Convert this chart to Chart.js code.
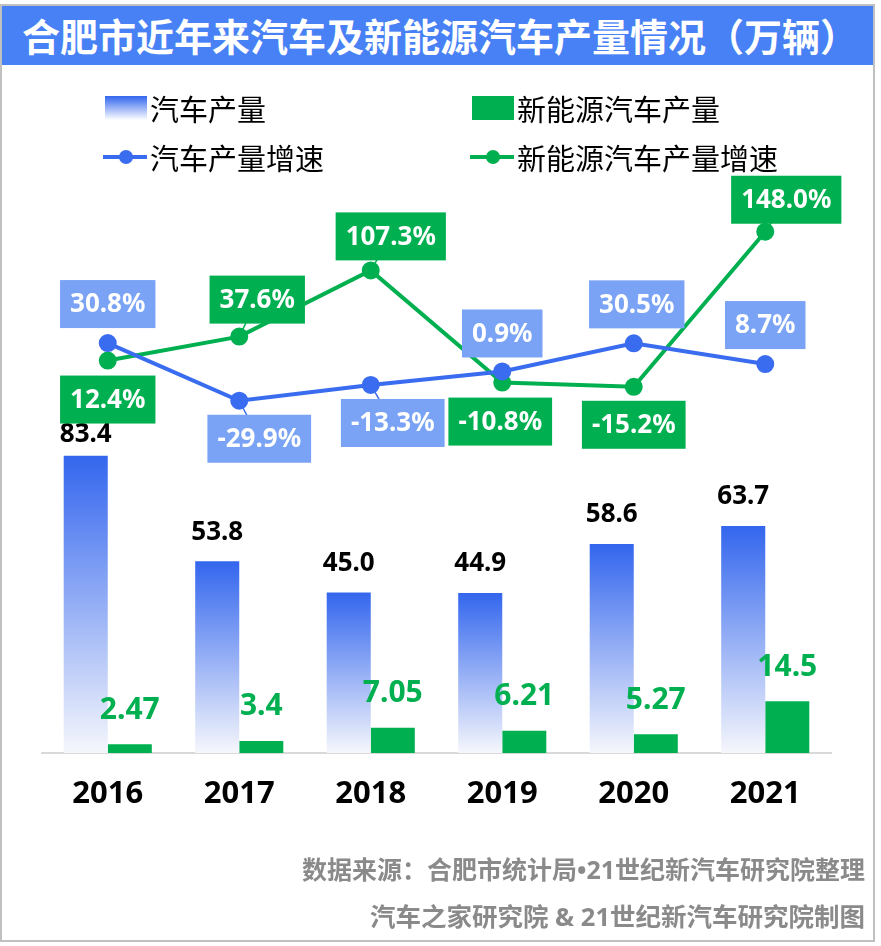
<!DOCTYPE html>
<html>
<head>
<meta charset="utf-8">
<script src="https://cdn.jsdelivr.net/npm/chart.js@4.4.0/dist/chart.umd.min.js"></script>
<style>
body { margin: 0; background: #fff; }
#wrap { position: relative; width: 881px; height: 946px; overflow: hidden; font-family: "Noto Sans", "Noto Sans CJK SC", sans-serif; }
#frame { position: absolute; left: 0; top: 4px; width: 875px; height: 938px; box-sizing: border-box; border: 2px solid #c0c0c0; }
#title { position: absolute; left: 2px; top: 6px; width: 871px; height: 59px; background: #4781f5; color: #fff; font-family: "Noto Sans CJK SC", sans-serif; font-weight: bold; font-size: 38px; line-height: 58px; padding-left: 20px; box-sizing: border-box; white-space: nowrap; }
.lg { position: absolute; height: 36px; line-height: 36px; font-size: 29px; font-family: "Noto Sans CJK SC", sans-serif; color: #000; white-space: nowrap; }
.lg .txt { position: absolute; left: 45px; top: 0; }
.box { position: absolute; left: 0; top: 6px; width: 42px; height: 24px; }
.ln { position: absolute; left: -2px; top: 16px; width: 44px; height: 4px; }
.dot { position: absolute; left: 14px; top: 11px; width: 14px; height: 14px; border-radius: 50%; }
.foot { position: absolute; right: 16px; color: #8a8a8a; font-family: "Noto Sans", "Noto Sans CJK SC", sans-serif; font-weight: bold; white-space: nowrap; }
canvas { position: absolute; left: 0; top: 0; }
</style>
</head>
<body>
<div id="wrap">
  <div id="frame"></div>
  <div id="title">合肥市近年来汽车及新能源汽车产量情况（万辆）</div>
  <canvas id="chart" width="881" height="946"></canvas>

  <div class="lg" style="left:105px;top:90px;"><span class="box" style="background:linear-gradient(#3366ee,#ffffff);"></span><span class="txt">汽车产量</span></div>
  <div class="lg" style="left:472px;top:90px;"><span class="box" style="background:#00b050;"></span><span class="txt">新能源汽车产量</span></div>
  <div class="lg" style="left:105px;top:139px;"><span class="ln" style="background:#3a6cf0;"></span><span class="dot" style="background:#3a6cf0;"></span><span class="txt">汽车产量增速</span></div>
  <div class="lg" style="left:472px;top:139px;"><span class="ln" style="background:#00b050;"></span><span class="dot" style="background:#00b050;"></span><span class="txt">新能源汽车产量增速</span></div>

  <div class="foot" style="top:850px;font-size:25px;">数据来源：合肥市统计局•21世纪新汽车研究院整理</div>
  <div class="foot" style="top:896px;font-size:25.5px;">汽车之家研究院 &amp; 21世纪新汽车研究院制图</div>
</div>

<script>
const years = ['2016', '2017', '2018', '2019', '2020', '2021'];
const carOutput = [83.4, 53.8, 45.0, 44.9, 58.6, 63.7];
const nevOutput = [2.47, 3.4, 7.05, 6.21, 5.27, 14.5];
const carGrowth = [30.8, -29.9, -13.3, 0.9, 30.5, 8.7];
const nevGrowth = [12.4, 37.6, 107.3, -10.8, -15.2, 148.0];

// where each growth label box sits relative to its point
const carGrowthLabel = [[0, -39], [20, 38], [22, 38], [0, -38], [3, -39], [0, -39]];
const nevGrowthLabel = [[0, 39], [18, -37], [20, -34], [-2, 39], [0, 38], [21, -32]];

const BLUE = '#3a6cf0';
const LIGHTBLUE = '#7aa3f5';
const GREEN = '#00b050';
const NUM_FONT = '"Noto Sans", "Noto Sans CJK SC", sans-serif';

function barGradient(context) {
  const chart = context.chart;
  if (!chart.chartArea) return BLUE;
  const y = chart.scales.y;
  const top = y.getPixelForValue(context.raw);
  const bottom = y.getPixelForValue(0);
  const g = chart.ctx.createLinearGradient(0, top, 0, bottom);
  g.addColorStop(0, '#3366ee');
  g.addColorStop(1, '#f6f7fc');
  return g;
}

const labelPlugin = {
  id: 'labelPlugin',
  afterDatasetsDraw(chart) {
    const c = chart.ctx;
    c.save();
    c.textAlign = 'center';
    c.textBaseline = 'middle';

    // bar values
    chart.data.datasets.forEach((ds, i) => {
      if (ds.type !== 'bar') return;
      const meta = chart.getDatasetMeta(i);
      meta.data.forEach((el, j) => {
        if (ds.label === '汽车产量') {
          c.font = 'bold 26px ' + NUM_FONT;
          c.fillStyle = '#000';
          const dy = j === 0 ? -21 : -29;
          c.fillText(ds.data[j].toFixed(1), el.x, el.y + dy);
        } else {
          c.font = 'bold 30px ' + NUM_FONT;
          c.fillStyle = GREEN;
          c.fillText(String(ds.data[j]), el.x, el.y - 34);
        }
      });
    });

    // growth labels: leader lines first, then boxes
    const boxes = [];
    chart.data.datasets.forEach((ds, i) => {
      if (ds.type !== 'line') return;
      const meta = chart.getDatasetMeta(i);
      const offs = ds.label === '汽车产量增速' ? carGrowthLabel : nevGrowthLabel;
      const fill = ds.label === '汽车产量增速' ? LIGHTBLUE : GREEN;
      meta.data.forEach((el, j) => {
        const cx = el.x + offs[j][0];
        const cy = el.y + offs[j][1];
        if (Math.abs(offs[j][0]) > 10) {
          c.strokeStyle = ds.borderColor;
          c.lineWidth = 1.5;
          c.beginPath();
          c.moveTo(el.x, el.y);
          c.lineTo(cx, cy);
          c.stroke();
        }
        boxes.push({ cx, cy, fill, text: ds.data[j].toFixed(1) + '%' });
      });
    });
    c.font = 'bold 26px ' + NUM_FONT;
    boxes.forEach(b => {
      const w = c.measureText(b.text).width + 20;
      const h = 48;
      c.fillStyle = b.fill;
      c.fillRect(b.cx - w / 2, b.cy - h / 2, w, h);
      c.fillStyle = '#fff';
      c.fillText(b.text, b.cx, b.cy + 1);
    });
    c.restore();
  }
};

new Chart(document.getElementById('chart'), {
  data: {
    labels: years,
    datasets: [
      {
        type: 'line', label: '汽车产量增速', data: carGrowth, yAxisID: 'y1', order: 0,
        borderColor: BLUE, backgroundColor: BLUE, borderWidth: 4,
        pointRadius: 7, pointHoverRadius: 7, tension: 0
      },
      {
        type: 'line', label: '新能源汽车产量增速', data: nevGrowth, yAxisID: 'y1', order: 0,
        borderColor: GREEN, backgroundColor: GREEN, borderWidth: 4,
        pointRadius: 7, pointHoverRadius: 7, tension: 0
      },
      {
        type: 'bar', label: '汽车产量', data: carOutput, yAxisID: 'y', order: 1,
        backgroundColor: barGradient,
        categoryPercentage: 0.67, barPercentage: 1.0
      },
      {
        type: 'bar', label: '新能源汽车产量', data: nevOutput, yAxisID: 'y', order: 1,
        backgroundColor: GREEN,
        categoryPercentage: 0.67, barPercentage: 1.0
      }
    ]
  },
  options: {
    responsive: false,
    animation: false,
    layout: { padding: { left: 42, right: 50, top: 200, bottom: 0 } },
    plugins: {
      legend: { display: false },
      tooltip: { enabled: false }
    },
    scales: {
      x: {
        grid: { display: false, drawTicks: false },
        border: { display: true, color: '#d9d9d9', width: 2 },
        ticks: { color: '#000', font: { size: 31, weight: 'bold', family: NUM_FONT }, padding: 23 },
        afterFit(scale) { scale.height = 193; }
      },
      y: { display: false, min: 0, max: 155.1 },
      y1: { display: false, min: -400.7, max: 181.4 }
    }
  },
  plugins: [labelPlugin]
});
</script>
</body>
</html>
